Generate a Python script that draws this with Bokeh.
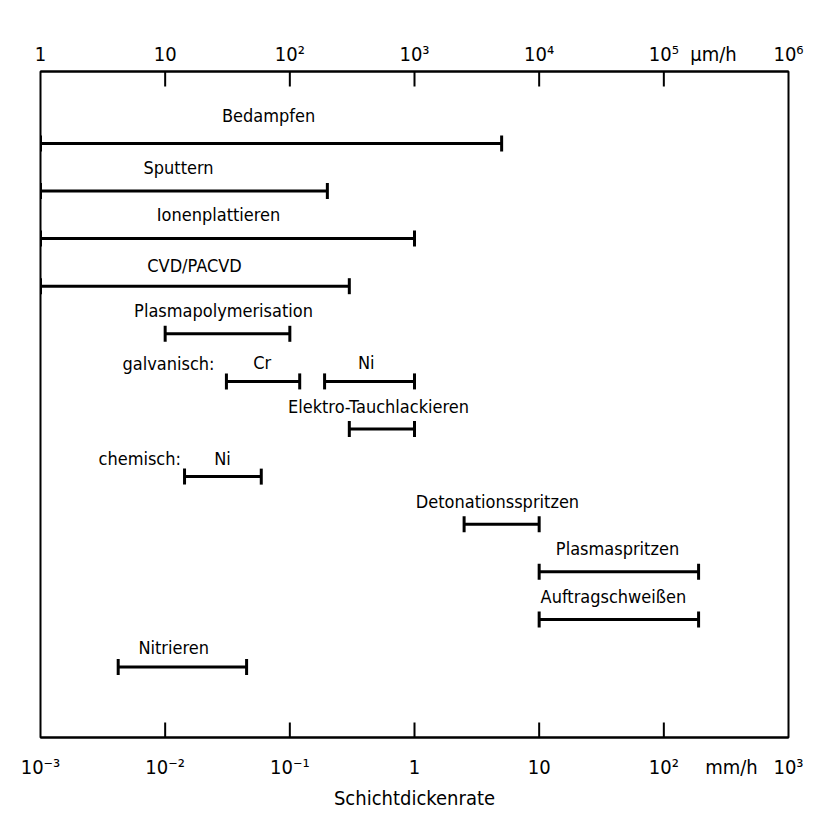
from bokeh.plotting import figure
from bokeh.models import Range1d, LogAxis, FixedTicker, LogScale, ColumnDataSource
from bokeh.core.properties import value
from bokeh.embed import file_html
from bokeh.resources import INLINE

# ---------------- data ----------------
bar_names = ["Bedampfen", "Sputtern", "Ionenplattieren", "CVD/PACVD",
             "Plasmapolymerisation", "galvanisch Cr", "galvanisch Ni",
             "Elektro-Tauchlackieren", "chemisch Ni", "Detonationsspritzen",
             "Plasmaspritzen", "Auftragschweißen", "Nitrieren"]
bar_rows = [0, 1, 2, 3, 4, 5, 5, 6, 7, 8, 9, 10, 11]
bar_low_mm_h = [1e-3, 1e-3, 1e-3, 1e-3, 0.01, 0.031, 0.19, 0.3, 0.0143, 2.5, 10, 10, 0.0042]
bar_high_mm_h = [5, 0.2, 1, 0.3, 0.1, 0.12, 1, 1, 0.059, 10, 190, 190, 0.045]

# text labels (centered)
label_texts = ["Bedampfen", "Sputtern", "Ionenplattieren", "CVD/PACVD",
               "Plasmapolymerisation", "Cr", "Ni", "Elektro-Tauchlackieren",
               "Ni", "Detonationsspritzen", "Plasmaspritzen", "Auftragschweißen",
               "Nitrieren"]
label_x_mm_h = [0.0675, 0.0128, 0.0268, 0.0172, 0.0294, 0.060, 0.41, 0.514,
                0.0288, 4.63, 42.5, 39.4, 0.0117]
label_rows = [0, 1, 2, 3, 4, 5, 5, 6, 7, 8, 9, 10, 11]
# left-aligned group labels
group_texts = ["galvanisch:", "chemisch:"]
group_x_mm_h = [0.00455, 0.00292]
group_rows = [5, 7]

# axis ticks (decades) and unit captions
mm_ticks = [1e-3, 1e-2, 1e-1, 1, 10, 100, 1000]
mm_tick_labels = ["10⁻³", "10⁻²", "10⁻¹", "1", "10", "10²", "10³"]
um_ticks = [1, 10, 100, 1e3, 1e4, 1e5, 1e6]
um_tick_labels = ["1", "10", "10²", "10³", "10⁴", "10⁵", "10⁶"]
mm_unit_at, mm_unit = 349.0, "mm/h"
um_unit_at, um_unit = 2.5e5, "µm/h"

# ---------------- layout / style ----------------
FONT = "DejaVu Sans Condensed"
ROW_PX = 47.6
Y_BOTTOM, Y_TOP = 12.48, -1.51
label_lift_px = [20, 15, 16, 13, 15, 11, 11, 15, 10, 15, 15, 15, 12]
group_lift_px = [10, 10]
BASE_FIX = 8   # compensation for renderer baseline placement
TICK_PX = 15

p = figure(width=808, height=820, x_axis_type="log",
           x_range=Range1d(1e-3, 1e3), y_range=Range1d(Y_BOTTOM, Y_TOP),
           output_backend="svg", toolbar_location=None,
           min_border_left=40, min_border_right=20,
           min_border_top=71, min_border_bottom=83)
p.yaxis.visible = False
p.grid.visible = False
p.outline_line_color = "black"
p.outline_line_width = 2
p.background_fill_color = "white"
p.border_fill_color = "white"

def style_axis(ax, standoff):
    ax.major_tick_in = 0
    ax.major_tick_out = 0
    ax.major_tick_line_color = None
    ax.minor_tick_line_color = None
    ax.axis_line_width = 2
    ax.axis_line_color = "black"
    ax.major_label_text_font = FONT
    ax.major_label_text_font_size = "20px"
    ax.major_label_text_color = "black"
    ax.major_label_standoff = standoff

bx = p.xaxis[0]
bx.ticker = FixedTicker(ticks=mm_ticks + [mm_unit_at])
ov = dict(zip(mm_ticks, mm_tick_labels))
ov[mm_unit_at] = mm_unit
bx.major_label_overrides = ov
style_axis(bx, 17)
bx.axis_label = "Schichtdickenrate"
bx.axis_label_text_font = FONT
bx.axis_label_text_font_size = "20px"
bx.axis_label_text_font_style = "normal"
bx.axis_label_text_color = "black"
bx.axis_label_standoff = 4

p.extra_x_ranges = {"um": Range1d(1, 1e6)}
p.extra_x_scales = {"um": LogScale()}
tx = LogAxis(x_range_name="um", ticker=FixedTicker(ticks=um_ticks + [um_unit_at]))
ov2 = dict(zip(um_ticks, um_tick_labels))
ov2[um_unit_at] = um_unit
tx.major_label_overrides = ov2
style_axis(tx, 6)
p.add_layout(tx, "above")

# inward tick marks at inner decades
inner_mm = mm_ticks[1:-1]
inner_um = um_ticks[1:-1]
t = TICK_PX / ROW_PX
p.segment(x0=inner_mm, x1=inner_mm, y0=[Y_BOTTOM] * len(inner_mm),
          y1=[Y_BOTTOM - t] * len(inner_mm), line_color="black", line_width=2)
p.segment(x0=inner_um, x1=inner_um, y0=[Y_TOP] * len(inner_um),
          y1=[Y_TOP + t] * len(inner_um), line_color="black", line_width=2,
          x_range_name="um")

# bars
cap = 8 / ROW_PX
src = ColumnDataSource(dict(
    x0=bar_low_mm_h, x1=bar_high_mm_h, y=bar_rows,
    yc0=[r - cap for r in bar_rows], yc1=[r + cap for r in bar_rows],
    name=bar_names))
p.segment(x0="x0", y0="y", x1="x1", y1="y", source=src, line_color="black", line_width=3)
p.segment(x0="x0", y0="yc0", x1="x0", y1="yc1", source=src, line_color="black", line_width=3)
p.segment(x0="x1", y0="yc0", x1="x1", y1="yc1", source=src, line_color="black", line_width=3)

# labels
lsrc = ColumnDataSource(dict(
    x=label_x_mm_h,
    y=[r - (d + BASE_FIX) / ROW_PX for r, d in zip(label_rows, label_lift_px)],
    text=label_texts))
p.text(x="x", y="y", text="text", source=lsrc, text_font=value(FONT),
       text_font_size="18px", text_align="center", text_baseline="alphabetic",
       text_color="black")
gsrc = ColumnDataSource(dict(
    x=group_x_mm_h,
    y=[r - (d + BASE_FIX) / ROW_PX for r, d in zip(group_rows, group_lift_px)],
    text=group_texts))
p.text(x="x", y="y", text="text", source=gsrc, text_font=value(FONT),
       text_font_size="18px", text_align="left", text_baseline="alphabetic",
       text_color="black")

open("out.html", "w").write(file_html(p, INLINE))
